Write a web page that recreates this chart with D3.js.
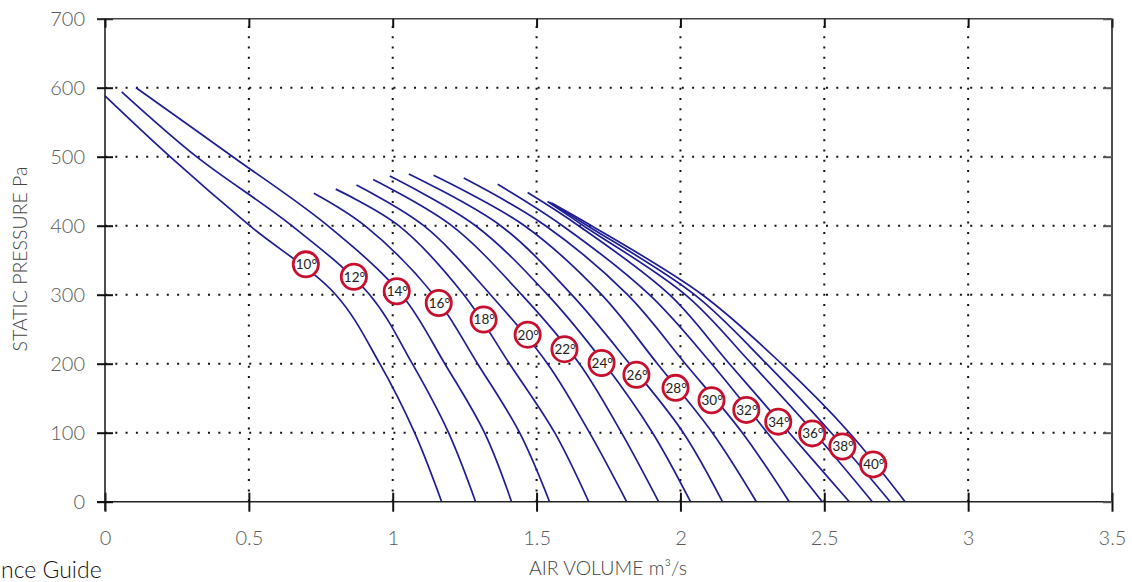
<!DOCTYPE html>
<html>
<head>
<meta charset="utf-8">
<script src="https://cdn.jsdelivr.net/npm/d3@7"></script>
<style>
  html, body { margin: 0; padding: 0; background: #fff; }
  svg { display: block; }
  .tick text { font-family: Lato, "Open Sans", sans-serif; font-weight: 300; font-size: 20px; fill: #5a5a5a; }
  .title { font-family: Lato, "Open Sans", sans-serif; font-weight: 300; fill: #444; }
</style>
</head>
<body>
<svg id="chart" width="1132" height="582"></svg>
<script>
// ---- data (air volume m3/s, static pressure Pa) ----
const angles = [10, 12, 14, 16, 18, 20, 22, 24, 26, 28, 30, 32, 34, 36, 38, 40];
const xTicks = [0, 0.5, 1, 1.5, 2, 2.5, 3, 3.5];
const xTickLabels = ["0", "0.5", "1", "1.5", "2", "2.5", "3", "3.5"];
const yTicks = [0, 100, 200, 300, 400, 500, 600, 700];

const c10 = [[0.000,588],[0.226,500],[0.503,400],[0.802,300],[0.955,200],[1.076,100],[1.170,0]];
const c12 = [[0.058,594],[0.318,500],[0.649,400],[0.920,300],[1.068,200],[1.194,100],[1.288,0]];
const c14 = [[0.108,600],[0.444,500],[0.774,400],[1.031,300],[1.181,200],[1.319,100],[1.413,0]];
const c16 = [[0.726,447],[0.903,400],[1.142,300],[1.295,200],[1.441,100],[1.545,0]];
const c18 = [[0.802,453],[1.021,400],[1.247,300],[1.406,200],[1.563,100],[1.681,0]];
const c20 = [[0.874,459],[1.108,400],[1.340,300],[1.538,200],[1.684,100],[1.813,0]];
const c22 = [[0.932,467],[1.205,400],[1.448,300],[1.649,200],[1.795,100],[1.924,0]];
const c24 = [[0.990,472],[1.288,400],[1.538,300],[1.736,200],[1.903,100],[2.035,0]];
const c26 = [[1.056,475],[1.375,400],[1.622,300],[1.823,200],[2.010,100],[2.146,0]];
const c28 = [[1.142,473],[1.458,400],[1.726,300],[1.920,200],[2.111,100],[2.264,0]];
const c30 = [[1.247,469],[1.531,400],[1.816,300],[2.017,200],[2.215,100],[2.378,0]];
const c32 = [[1.365,460],[1.590,400],[1.892,300],[2.108,200],[2.302,100],[2.493,0]];
const c34 = [[1.469,448],[1.646,400],[1.962,300],[2.170,200],[2.378,100],[2.587,0]];
const c36 = [[1.538,435],[1.663,400],[2.017,300],[2.247,200],[2.465,100],[2.667,0]];
const c38 = [[1.545,434],[1.677,400],[2.049,300],[2.299,200],[2.524,100],[2.729,0]];
const c40 = [[1.552,433],[1.691,400],[2.076,300],[2.351,200],[2.587,100],[2.781,0]];
const curves = [c10, c12, c14, c16, c18, c20, c22, c24, c26, c28, c30, c32, c34, c36, c38, c40];

// label positions on each curve
const labelX = [0.698,0.865,1.014,1.160,1.316,1.469,1.597,1.726,1.847,1.983,2.108,2.229,2.340,2.458,2.563,2.670];
const labelP = [344,326,305,288,264,242,221,201,184,165,147,133,116,99,80,54];

// ---- drawing ----
const svg = d3.select("#chart");
const x = d3.scaleLinear().domain([0, 3.5]).range([105, 1112]);
const y = d3.scaleLinear().domain([0, 700]).range([501.7, 18.7]);

// gridlines
const grid = svg.append("g");
grid.selectAll("line.h").data(yTicks.filter(v => v > 0 && v < 700)).enter().append("line")
  .attr("x1", x(0)).attr("x2", x(3.5)).attr("y1", d => y(d)).attr("y2", d => y(d))
  .attr("stroke", "#111").attr("stroke-width", 2).attr("stroke-dasharray", "2,8.3");
grid.selectAll("line.v").data(xTicks.filter(v => v > 0 && v < 3.5)).enter().append("line")
  .attr("y1", y(0)).attr("y2", y(700)).attr("x1", d => x(d)).attr("x2", d => x(d))
  .attr("stroke", "#111").attr("stroke-width", 2).attr("stroke-dasharray", "2,8.3");

// curves
const line = d3.line().x(d => x(d[0])).y(d => y(d[1])).curve(d3.curveCatmullRom.alpha(0.5));
svg.append("g").selectAll("path").data(curves).enter().append("path")
  .attr("d", line).attr("fill", "none").attr("stroke", "#1d1d94").attr("stroke-width", 1.7);

// axes
const xAxisG = svg.append("g").attr("transform", `translate(0,${y(0)})`)
  .call(d3.axisBottom(x).tickValues(xTicks).tickFormat((d, i) => xTickLabels[i]).tickSize(10).tickPadding(14));
xAxisG.selectAll(".tick line").attr("y1", -9).attr("y2", 10).attr("stroke", "#111").attr("stroke-width", 2);
xAxisG.select(".domain").attr("stroke", "#222").attr("stroke-width", 1.6).attr("d", `M${x(0)-8},0H${x(3.5)}`);
xAxisG.selectAll(".tick text").attr("dy", "0.95em");

const yAxisG = svg.append("g").attr("transform", `translate(${x(0)},0)`)
  .call(d3.axisLeft(y).tickValues(yTicks).tickSize(8).tickPadding(12));
yAxisG.selectAll(".tick line").attr("x1", -8).attr("x2", 8).attr("stroke", "#111").attr("stroke-width", 2);
yAxisG.select(".domain").attr("stroke", "#222").attr("stroke-width", 1.6).attr("d", `M0,${y(0)+9}V${y(700)}`);

// top & right border with inward ticks
const topG = svg.append("g").attr("transform", `translate(0,${y(700)})`)
  .call(d3.axisTop(x).tickValues(xTicks).tickSize(-9).tickFormat(""));
topG.selectAll(".tick line").attr("stroke", "#111").attr("stroke-width", 2);
topG.select(".domain").attr("stroke", "#444").attr("stroke-width", 1.6).attr("d", `M${x(0)-8},0H${x(3.5)}`);
const rightG = svg.append("g").attr("transform", `translate(${x(3.5)},0)`)
  .call(d3.axisRight(y).tickValues(yTicks).tickSize(-9).tickFormat(""));
rightG.selectAll(".tick line").attr("stroke", "#555").attr("stroke-width", 2);
rightG.select(".domain").attr("stroke", "#222").attr("stroke-width", 1.6).attr("d", `M0,${y(0)}V${y(700)}`);

// angle labels
const lab = svg.append("g").selectAll("g").data(angles).enter().append("g")
  .attr("transform", (d, i) => `translate(${x(labelX[i])},${y(labelP[i])})`);
lab.append("circle").attr("r", 12.6).attr("fill", "#fff").attr("stroke", "#c8102e").attr("stroke-width", 2.8);
lab.append("text").text(d => d + "°").attr("text-anchor", "middle").attr("dy", "0.36em").attr("dx", 0.6)
  .attr("font-family", "Lato, 'Open Sans', sans-serif").attr("font-size", 13.5).attr("fill", "#222");

// titles
svg.append("text").attr("class", "title").attr("transform", "translate(27,259) rotate(-90)")
  .attr("text-anchor", "middle").attr("font-size", 19.5).text("STATIC PRESSURE Pa");
svg.append("text").attr("class", "title").attr("x", 608).attr("y", 575)
  .attr("text-anchor", "middle").attr("font-size", 19.5).text("AIR VOLUME m³/s");
svg.append("text").attr("x", 1).attr("y", 578).attr("text-anchor", "start")
  .attr("font-family", "Lato, 'Open Sans', sans-serif").attr("font-weight", 300).attr("font-size", 23).attr("fill", "#111")
  .text("nce Guide");
</script>
</body>
</html>
